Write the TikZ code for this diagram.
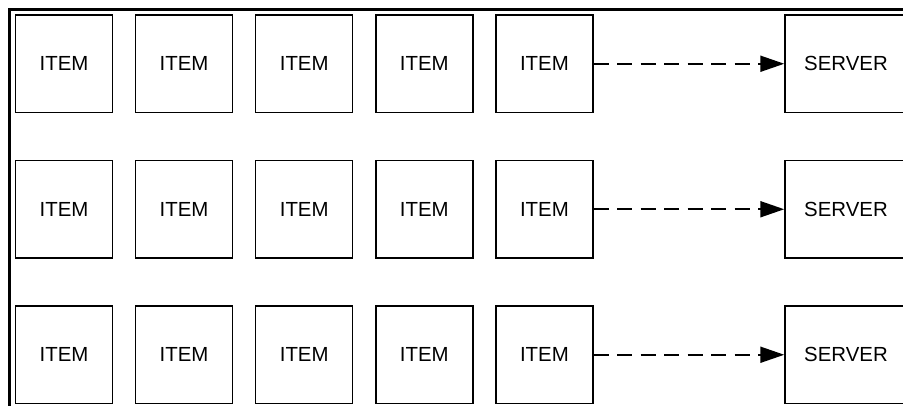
\documentclass[tikz,border=0pt]{standalone}
\usepackage{fontspec}
\setmainfont{Liberation Sans}
\usetikzlibrary{arrows.meta}
\tikzset{
  itembox/.style={draw=black, line width=1.5pt, minimum width=97pt, minimum height=97.5pt, inner sep=0pt, font=\fontsize{20.4}{24}\selectfont},
  serverbox/.style={itembox, minimum width=122pt},
  frameline/.style={draw=black, line width=3pt},
  flow/.style={line width=2pt, dash pattern=on 15pt off 8.5pt, -{Triangle[length=24pt,width=16pt]}}
}
\begin{document}
\begin{tikzpicture}[x=1pt,y=-1pt]
\useasboundingbox (0,0) rectangle (903,405);
\clip (0,0) rectangle (903,405);
\fill[white] (0,0) rectangle (903,405);
\draw[frameline] (9.5,9.5) rectangle (1000,500);
\foreach \r in {0,1,2} {
  \foreach \c in {0,...,4} {
    \node[itembox] (i-\r-\c) at ({64+120.1*\c},{63.75+145.5*\r}) {ITEM};
  }
  \node[serverbox] (s-\r) at (846,{63.75+145.5*\r}) {SERVER};
  \draw[flow] (i-\r-4.east) -- (s-\r.west);
}
\end{tikzpicture}
\end{document}
